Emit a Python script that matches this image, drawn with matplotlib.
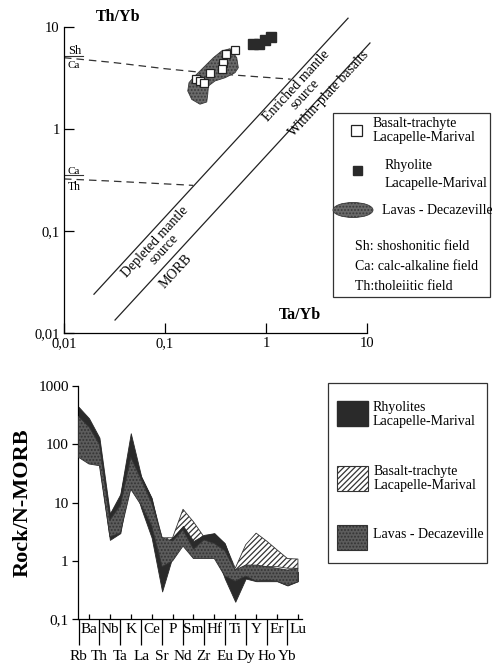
import numpy as np
import matplotlib
matplotlib.use('Agg')
import matplotlib.pyplot as plt
from matplotlib.patches import Polygon, Rectangle, Ellipse

plt.rcParams['font.family'] = ['Liberation Serif', 'DejaVu Serif']
plt.rcParams['hatch.linewidth'] = 0.9

# ---------------- Th/Yb vs Ta/Yb data ----------------
basalt_ta_yb = [0.493, 0.402, 0.375, 0.366, 0.279, 0.203, 0.222, 0.243]
basalt_th_yb = [5.95, 5.43, 4.44, 3.87, 3.54, 3.09, 2.96, 2.82]
rhyolite_ta_yb = [0.743, 0.853, 0.977, 1.12]
rhyolite_th_yb = [6.81, 6.81, 7.46, 7.98]

# outline of the Decazeville lavas field
decaz_ta_yb = [0.441, 0.513, 0.532, 0.493, 0.393, 0.313, 0.269, 0.265, 0.259,
               0.222, 0.184, 0.168, 0.173, 0.198, 0.249, 0.301, 0.364]
decaz_th_yb = [6.13, 5.0, 3.99, 3.56, 3.18, 2.96, 2.64, 2.19, 1.84,
               1.75, 1.95, 2.36, 2.85, 3.31, 4.15, 5.0, 5.82]

# mantle array boundaries
upper_x = [0.0198, 6.49]
upper_y = [0.024, 12.2]
lower_x = [0.032, 10.7]
lower_y = [0.0134, 6.97]

# Sh/Ca and Ca/Th dashed boundaries
shca_x = [0.01, 0.03, 0.1, 0.3, 1.75]
shca_y = [5.0, 4.5, 3.9, 3.5, 3.08]
cath_x = [0.01, 0.0285, 0.158, 0.19]
cath_y = [0.324, 0.309, 0.283, 0.28]

# ---------------- spider diagram data ----------------
elements = ['Rb', 'Ba', 'Th', 'Nb', 'Ta', 'K', 'La', 'Ce', 'Sr', 'P', 'Nd',
            'Sm', 'Zr', 'Hf', 'Eu', 'Ti', 'Dy', 'Y', 'Ho', 'Er', 'Yb', 'Lu']

rhy_low = [150, 100, 45, 2.3, 3.0, 30, 8, 2.5, 0.3, 1.2, 2.5,
           1.2, 1.4, 1.6, 0.5, 0.2, 0.5, 0.45, 0.45, 0.45, 0.38, 0.45]
rhy_high = [440, 280, 130, 6.5, 14, 155, 28, 12, 2.0, 2.5, 4.0,
            2.2, 2.8, 3.0, 2.0, 0.65, 0.8, 0.8, 0.75, 0.7, 0.65, 0.65]

bas_low = [100, 80, 50, 3.0, 4.0, 20, 10, 5, 0.6, 1.4, 3.0,
           2.0, 2.0, 2.0, 0.9, 0.6, 0.8, 0.8, 0.8, 0.8, 0.75, 0.75]
bas_high = [300, 250, 120, 6.0, 12, 100, 28, 12, 2.5, 2.5, 7.7,
            4.7, 2.6, 2.9, 2.0, 0.75, 1.9, 3.0, 2.2, 1.55, 1.1, 1.08]

lav_low = [60, 46, 43, 2.6, 3.0, 17, 9, 4, 0.8, 1.0, 1.8,
           1.1, 1.1, 1.1, 0.55, 0.45, 0.55, 0.45, 0.47, 0.45, 0.38, 0.44]
lav_high = [300, 200, 100, 5.0, 9, 60, 25, 10, 2.5, 2.2, 3.4,
            1.6, 2.3, 2.0, 1.5, 0.7, 0.85, 0.85, 0.8, 0.75, 0.7, 0.75]

DARK = '#2a2a2a'
GREY = '#5c5c5c'
FIELD = '#6a6a6a'

fig = plt.figure(figsize=(4.92, 6.69), dpi=100)

############################ TOP ##########################
ax1 = fig.add_axes([64 / 492, 336 / 669, 303 / 492, 306 / 669])
ax1.set_xscale('log')
ax1.set_yscale('log')
ax1.set_xlim(0.01, 10)
ax1.set_ylim(0.01, 10)
ax1.set_xticks([0.01, 0.1, 1, 10], ['0,01', '0,1', '1', '10'])
ax1.set_yticks([0.01, 0.1, 1, 10], ['0,01', '0,1', '1', '10'])
ax1.minorticks_off()
ax1.tick_params(direction='in', length=7, width=0.9, labelsize=10.5, pad=3)
for s in ['top', 'right']:
    ax1.spines[s].set_visible(False)
for s in ['left', 'bottom']:
    ax1.spines[s].set_linewidth(0.9)

ax1.plot(upper_x, upper_y, color='#222222', lw=0.9, clip_on=False)
ax1.plot(lower_x, lower_y, color='#222222', lw=0.9, clip_on=False)
ax1.plot(shca_x, shca_y, color='#333333', lw=0.9, dashes=(6, 4))
ax1.plot(cath_x, cath_y, color='#333333', lw=0.9, dashes=(6, 4))
ax1.plot([0.01, 0.0155], [5.2, 5.2], color='#333333', lw=0.8)
ax1.plot([0.01, 0.0155], [0.354, 0.354], color='#333333', lw=0.8)
ax1.text(0.0109, 5.82, 'Sh', fontsize=9, va='center')
ax1.text(0.0109, 4.15, 'Ca', fontsize=8, va='center')
ax1.text(0.0109, 0.387, 'Ca', fontsize=8, va='center')
ax1.text(0.0109, 0.27, 'Th', fontsize=8.5, va='center')

field = Polygon(list(zip(decaz_ta_yb, decaz_th_yb)), closed=True,
                facecolor=FIELD, edgecolor='#3a3a3a', hatch='.....', lw=0.6, zorder=2)
ax1.add_patch(field)
ax1.plot(basalt_ta_yb, basalt_th_yb, 's', ms=6, mfc='white', mec='#222222', mew=0.9, ls='none', zorder=3)
ax1.plot(rhyolite_ta_yb, rhyolite_th_yb, 's', ms=7.5, mfc=DARK, mec=DARK, ls='none', zorder=3)

# labels along the mantle array
p1 = ax1.transData.transform((upper_x[0], upper_y[0]))
p2 = ax1.transData.transform((upper_x[1], upper_y[1]))
ang = np.degrees(np.arctan2(p2[1] - p1[1], p2[0] - p1[0]))
ax1.text(0.088, 0.072, 'Depleted mantle\nsource', rotation=ang, rotation_mode='anchor',
         ha='center', va='center', fontsize=10, linespacing=0.85)
ax1.text(0.1285, 0.0405, 'MORB', rotation=ang, rotation_mode='anchor',
         ha='center', va='center', fontsize=10)
ax1.text(2.2, 2.4, 'Enriched mantle\nsource', rotation=ang, rotation_mode='anchor',
         ha='center', va='center', fontsize=10, linespacing=0.85)
ax1.text(4.2, 2.2, 'Within-plate basalts', rotation=ang, rotation_mode='anchor',
         ha='center', va='center', fontsize=10)

############################ BOTTOM ##########################
ax2 = fig.add_axes([77.7 / 492, 49.7 / 669, 224 / 492, 233.3 / 669])
xpos = np.arange(len(elements))
ax2.set_yscale('log')
ax2.set_ylim(0.1, 1000)
ax2.set_xlim(-0.08, 21.36)
ax2.set_yticks([0.1, 1, 10, 100, 1000], ['0,1', '1', '10', '100', '1000'])
ax2.minorticks_off()
ax2.tick_params(axis='y', direction='out', length=4.5, width=0.9, labelsize=11, pad=2)
ax2.set_xticks(xpos[1::2], elements[1::2])
ax2.set_xticks(xpos[0::2], elements[0::2], minor=True)
ax2.tick_params(axis='x', which='major', direction='in', length=3.5, width=0.9, labelsize=11, pad=3)
ax2.tick_params(axis='x', which='minor', direction='out', length=19, width=0.9, labelsize=11, pad=3)
for s in ['top', 'right']:
    ax2.spines[s].set_visible(False)
for s in ['left', 'bottom']:
    ax2.spines[s].set_linewidth(0.9)
ax2.set_ylabel('Rock/N-MORB', fontsize=16, fontweight='bold', labelpad=4)

ax2.fill_between(xpos, bas_low, bas_high, facecolor='white', edgecolor='#333333',
                 hatch='//////', lw=0.6, zorder=1)
ax2.fill_between(xpos, rhy_low, rhy_high, facecolor=DARK, edgecolor=DARK, lw=0.6, zorder=2)
ax2.fill_between(xpos, lav_low, lav_high, facecolor=GREY, edgecolor='#333333',
                 hatch='.....', lw=0.6, zorder=3)

############################ LEGENDS ##########################
ov = fig.add_axes([0, 0, 1, 1])
ov.set_xlim(0, 492)
ov.set_ylim(669, 0)
ov.axis('off')

ov.text(118, 17, 'Th/Yb', fontsize=11.5, fontweight='bold', ha='center', va='center')
ov.text(300, 315, 'Ta/Yb', fontsize=11.5, fontweight='bold', ha='center', va='center')

ov.add_patch(Rectangle((333, 113), 157, 184, fill=False, edgecolor='#333333', lw=0.9))
ov.add_patch(Rectangle((350.5, 124.5), 11, 11, facecolor='white', edgecolor='#222222', lw=0.9))
ov.text(373, 131, 'Basalt-trachyte\nLacapelle-Marival', fontsize=10, va='center', linespacing=1.1)
ov.add_patch(Rectangle((352.5, 165.5), 9, 9, facecolor=DARK, edgecolor=DARK))
ov.text(385, 175, 'Rhyolite\nLacapelle-Marival', fontsize=10, va='center', linespacing=1.5)
ov.add_patch(Ellipse((353, 210), 40, 15, facecolor=FIELD, edgecolor='#3a3a3a',
                     hatch='.....', lw=0.6))
ov.text(382, 210, 'Lavas - Decazeville', fontsize=10, va='center')
ov.text(355, 246, 'Sh: shoshonitic field', fontsize=10, va='center')
ov.text(355, 266, 'Ca: calc-alkaline field', fontsize=10, va='center')
ov.text(355, 286, 'Th:tholeiitic field', fontsize=10, va='center')

ov.add_patch(Rectangle((328, 383), 159, 180, fill=False, edgecolor='#333333', lw=0.9))
ov.add_patch(Rectangle((337, 401), 31, 25, facecolor=DARK, edgecolor=DARK))
ov.text(373, 415, 'Rhyolites\nLacapelle-Marival', fontsize=10, va='center', linespacing=1.1)
ov.add_patch(Rectangle((337, 466), 31, 25, facecolor='white', edgecolor='#333333',
                       hatch='//////', lw=0.8))
ov.text(374, 479, 'Basalt-trachyte\nLacapelle-Marival', fontsize=10, va='center', linespacing=1.1)
ov.add_patch(Rectangle((337, 525), 30, 25, facecolor=GREY, edgecolor='#333333',
                       hatch='.....', lw=0.8))
ov.text(373, 535, 'Lavas - Decazeville', fontsize=10, va='center')

fig.savefig('out.png', dpi=100)
